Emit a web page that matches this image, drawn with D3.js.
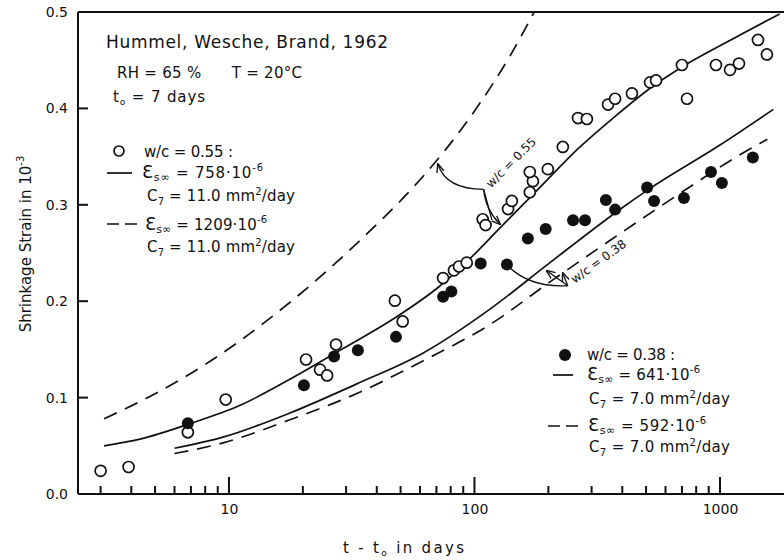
<!DOCTYPE html>
<html><head><meta charset="utf-8">
<script src="https://cdn.jsdelivr.net/npm/d3@7"></script>
<style>
body{margin:0;background:#fff}
text{font-family:"DejaVu Sans",sans-serif;fill:#111}
</style>
</head><body>
<svg id="c" width="784" height="560"></svg>
<script>
// ---- data ----
const openT = [3, 3.9, 6.8, 9.7, 20.6, 23.5, 25.1, 27.3, 47.4, 51, 74.5, 82.5, 86.5, 93, 108, 111, 137, 142, 168, 173, 168, 199, 229, 264, 287, 350, 374, 438, 519, 549, 700, 734, 963, 1099, 1195, 1428, 1553];
const openV = [0.024, 0.028, 0.064, 0.098, 0.1395, 0.129, 0.123, 0.155, 0.2005, 0.179, 0.224, 0.232, 0.236, 0.240, 0.285, 0.279, 0.2956, 0.304, 0.313, 0.3245, 0.334, 0.337, 0.360, 0.390, 0.389, 0.404, 0.410, 0.4155, 0.427, 0.429, 0.445, 0.410, 0.445, 0.440, 0.4465, 0.471, 0.456];
const solidT = [6.8, 20.2, 26.8, 33.5, 47.9, 74.5, 80.5, 106, 135.6, 165, 195, 252, 282, 343, 374, 505, 539, 713, 919, 1018, 1361];
const solidV = [0.0734, 0.1127, 0.1426, 0.149, 0.163, 0.2047, 0.210, 0.239, 0.238, 0.265, 0.275, 0.284, 0.284, 0.305, 0.295, 0.318, 0.304, 0.307, 0.334, 0.3225, 0.349];

// model curves (w/c 0.55: solid = 758e-6, dashed = 1209e-6; w/c 0.38: solid = 641e-6, dashed = 592e-6)
const c55T = [3.1, 4.34, 6.94, 11.1, 17.7, 28.3, 47, 72.5, 103, 127, 183, 269, 367, 533, 700, 1000, 1750];
const c55V = [0.050, 0.057, 0.073, 0.092, 0.119, 0.149, 0.182, 0.216, 0.252, 0.276, 0.317, 0.360, 0.390, 0.423, 0.443, 0.465, 0.498];
const d55T = [3.1, 5.0, 7.62, 11.1, 16.6, 24.2, 36.5, 53, 74.5, 105, 140, 175];
const d55V = [0.078, 0.104, 0.131, 0.159, 0.193, 0.228, 0.270, 0.311, 0.354, 0.405, 0.455, 0.500];
const c38T = [6, 9.45, 17.7, 33, 61.6, 116, 203, 400, 505, 1000, 1650];
const c38V = [0.0475, 0.059, 0.084, 0.114, 0.146, 0.192, 0.240, 0.297, 0.315, 0.362, 0.399];
const d38T = [6, 9.45, 17.7, 33, 61.6, 116, 203, 366, 465, 708, 1190, 1560];
const d38V = [0.042, 0.053, 0.077, 0.104, 0.138, 0.176, 0.220, 0.265, 0.283, 0.314, 0.351, 0.368];

// axes
const yTicks = [0, 0.1, 0.2, 0.3, 0.4, 0.5];
const yTickLabels = ["0.0", "0.1", "0.2", "0.3", "0.4", "0.5"];
const xMajor = [10, 100, 1000];
const xMajorLabels = ["10", "100", "1000"];
const xMinor = [3, 4, 5, 6, 7, 8, 9, 20, 30, 40, 50, 60, 70, 80, 90, 200, 300, 400, 500, 600, 700, 800, 900];

// annotation anchor points in data units
const ann55 = {dash: [71, 0.342], knee: [109, 0.316], line: [127, 0.280], text: [113.5, 0.317]};
const ann38 = {dot: [134, 0.239], tip: [240, 0.216], solid: [197, 0.2315], dashed: [229, 0.229], text: [256, 0.218]};

// ---- drawing ----
const svg = d3.select("#c");
const x = d3.scaleLog().domain([2.427, 1823]).range([78, 784]);
const y = d3.scaleLinear().domain([0, 0.5]).range([494, 12]);
const X0 = x.range()[0], X1 = x.range()[1], Y0 = y(0), Y1 = y(0.5);

const defs = svg.append("defs");
defs.append("marker").attr("id", "arr").attr("viewBox", "0 0 10 10").attr("refX", 9).attr("refY", 5)
  .attr("markerWidth", 7).attr("markerHeight", 7).attr("orient", "auto-start-reverse")
  .append("path").attr("d", "M0,1 L10,5 L0,9").attr("fill", "none").attr("stroke", "#111").attr("stroke-width", 1.5);

// labels: axisBottom / axisLeft with zero-length ticks
const lX = svg.append("g").attr("transform", `translate(0,${Y0})`)
  .call(d3.axisBottom(x).tickValues(xMajor).tickSize(0).tickPadding(10).tickFormat((d, i) => xMajorLabels[i]));
const lY = svg.append("g").attr("transform", `translate(${X0},0)`)
  .call(d3.axisLeft(y).tickValues(yTicks).tickSize(0).tickPadding(10).tickFormat((d, i) => yTickLabels[i]));
[lX, lY].forEach(g => {
  g.selectAll(".domain").remove();
  g.selectAll(".tick line").remove();
  g.selectAll(".tick text").attr("font-size", 14).attr("font-family", "DejaVu Sans").attr("fill", "#111");
});

// frame lines: bottom, left, top
const frame = svg.append("g").attr("stroke", "#111").attr("stroke-width", 2);
frame.append("line").attr("x1", X0).attr("x2", X1).attr("y1", Y0).attr("y2", Y0);
frame.append("line").attr("x1", X0).attr("x2", X0).attr("y1", Y0).attr("y2", Y1);
frame.append("line").attr("x1", X0).attr("x2", X1).attr("y1", Y1).attr("y2", Y1);

// inward tick marks from the scales
const ticks = svg.append("g").attr("stroke", "#111").attr("stroke-width", 2);
ticks.selectAll("line.xmin").data(xMinor).join("line").attr("class", "xmin")
  .attr("x1", d => x(d)).attr("x2", d => x(d)).attr("y1", Y0).attr("y2", Y0 - 8);
ticks.selectAll("line.xmaj").data(xMajor).join("line").attr("class", "xmaj")
  .attr("x1", d => x(d)).attr("x2", d => x(d)).attr("y1", Y0).attr("y2", Y0 - 17);
ticks.selectAll("line.ytk").data(yTicks.slice(1, -1)).join("line").attr("class", "ytk")
  .attr("x1", X0).attr("x2", X0 + 10).attr("y1", d => y(d)).attr("y2", d => y(d));

// axis titles
const xt = svg.append("text").attr("x", 343).attr("y", 553).attr("font-size", 15).attr("textLength", 121).attr("lengthAdjust", "spacing");
xt.append("tspan").text("t - t");
xt.append("tspan").attr("font-size", 9).attr("dy", 3).text("o");
xt.append("tspan").attr("dy", -3).text("  in  days");

const yt = svg.append("text").attr("transform", "translate(31,244) rotate(-90)").attr("text-anchor", "middle").attr("font-size", 15);
yt.append("tspan").text("Shrinkage Strain in 10");
yt.append("tspan").attr("font-size", 10).attr("dy", -7).text("-3");

// curves
const line = d3.line().x(d => x(d[0])).y(d => y(d[1])).curve(d3.curveMonotoneX);
const zip = (a, b) => a.map((t, i) => [t, b[i]]);
const curves = [
  {d: zip(c55T, c55V), dash: null},
  {d: zip(d55T, d55V), dash: "14,9"},
  {d: zip(c38T, c38V), dash: null},
  {d: zip(d38T, d38V), dash: "14,9"}
];
defs.append("clipPath").attr("id", "plot").append("rect")
  .attr("x", X0).attr("y", Y1).attr("width", X1 - X0).attr("height", Y0 - Y1);
svg.append("g").attr("clip-path", "url(#plot)").selectAll("path").data(curves).join("path")
  .attr("d", c => line(c.d)).attr("fill", "none").attr("stroke", "#111").attr("stroke-width", 1.7)
  .attr("stroke-dasharray", c => c.dash);

// points
svg.append("g").selectAll("circle").data(zip(openT, openV)).join("circle")
  .attr("cx", d => x(d[0])).attr("cy", d => y(d[1])).attr("r", 5.5)
  .attr("fill", "#fff").attr("stroke", "#111").attr("stroke-width", 1.7);
svg.append("g").selectAll("circle").data(zip(solidT, solidV)).join("circle")
  .attr("cx", d => x(d[0])).attr("cy", d => y(d[1])).attr("r", 6).attr("fill", "#111");

// annotations
const P = p => [x(p[0]), y(p[1])];
const a = svg.append("g").attr("fill", "none").attr("stroke", "#111").attr("stroke-width", 1.3);
{
  const [dx, dy] = P(ann55.dash), [kx, ky] = P(ann55.knee), [lx, ly] = P(ann55.line);
  a.append("path").attr("d", `M${kx},${ky} Q${dx + 8},${ky} ${dx},${dy}`).attr("marker-end", "url(#arr)");
  a.append("path").attr("d", `M${kx},${ky} Q${kx + 2},${ly - 14} ${lx},${ly}`).attr("marker-end", "url(#arr)");
  a.append("path").attr("d", `M${kx},${ky} L${lx - 8},${ly - 4}`);
  const [tx, ty] = P(ann55.text);
  svg.append("text").attr("transform", `translate(${tx + 3},${ty}) rotate(-45)`).attr("font-size", 12).text("w/c = 0.55");
}
{
  const [ox, oy] = P(ann38.dot), [tx, ty] = P(ann38.tip), [sx, sy] = P(ann38.solid), [qx, qy] = P(ann38.dashed);
  a.append("path").attr("d", `M${ox},${oy} Q${ox + 22},${ty + 2} ${tx},${ty}`);
  a.append("path").attr("d", `M${tx},${ty} L${sx},${sy}`).attr("marker-end", "url(#arr)");
  a.append("path").attr("d", `M${tx},${ty} L${qx},${qy}`).attr("marker-end", "url(#arr)");
  const [px, py] = P(ann38.text);
  svg.append("text").attr("transform", `translate(${px},${py}) rotate(-36)`).attr("font-size", 12).text("w/c = 0.38");
}

// header text
svg.append("text").attr("x", 106).attr("y", 48).attr("font-size", 17).attr("textLength", 282).attr("lengthAdjust", "spacing").text("Hummel, Wesche, Brand, 1962");
svg.append("text").attr("x", 117).attr("y", 78).attr("font-size", 15).attr("textLength", 185).attr("lengthAdjust", "spacing")
  .attr("xml:space", "preserve").text("RH = 65 %      T = 20°C");
{
  const t = svg.append("text").attr("x", 113).attr("y", 102).attr("font-size", 15).attr("textLength", 92).attr("lengthAdjust", "spacing");
  t.append("tspan").text("t");
  t.append("tspan").attr("font-size", 9).attr("dy", 3).text("o");
  t.append("tspan").attr("dy", -3).text(" = 7 days");
}

// legend helpers
function epsText(xp, yp, val, len) {
  const t = svg.append("text").attr("x", xp).attr("y", yp).attr("font-size", 15).attr("textLength", len).attr("lengthAdjust", "spacing");
  t.append("tspan").attr("font-size", 18).text("Ɛ");
  t.append("tspan").attr("font-size", 11).attr("dy", 3).text("s∞");
  t.append("tspan").attr("dy", -3).text(" = " + val + "·10");
  t.append("tspan").attr("font-size", 10).attr("dy", -7).text("-6");
}
function cText(xp, yp, val, len) {
  const t = svg.append("text").attr("x", xp).attr("y", yp).attr("font-size", 15).attr("textLength", len).attr("lengthAdjust", "spacing");
  t.append("tspan").text("C");
  t.append("tspan").attr("font-size", 10).attr("dy", 4).text("7");
  t.append("tspan").attr("dy", -4).text(" = " + val + " mm");
  t.append("tspan").attr("font-size", 10).attr("dy", -6).text("2");
  t.append("tspan").attr("dy", 6).text("/day");
}

// left legend
svg.append("circle").attr("cx", 119).attr("cy", 151).attr("r", 5).attr("fill", "#fff").attr("stroke", "#111").attr("stroke-width", 1.7);
svg.append("text").attr("x", 144).attr("y", 157).attr("font-size", 15).attr("textLength", 89).attr("lengthAdjust", "spacing").text("w/c = 0.55 :");
svg.append("line").attr("x1", 107).attr("x2", 132).attr("y1", 173).attr("y2", 173).attr("stroke", "#111").attr("stroke-width", 1.7);
epsText(142, 178, "758", 121);
cText(147, 201, "11.0", 148);
svg.append("line").attr("x1", 107).attr("x2", 140).attr("y1", 224).attr("y2", 224).attr("stroke", "#111").attr("stroke-width", 1.7).attr("stroke-dasharray", "12,6");
epsText(145, 230, "1209", 122);
cText(147, 252, "11.0", 148);

// right legend
svg.append("circle").attr("cx", 565).attr("cy", 355).attr("r", 6).attr("fill", "#111");
svg.append("text").attr("x", 587).attr("y", 360).attr("font-size", 15).attr("textLength", 88).attr("lengthAdjust", "spacing").text("w/c = 0.38 :");
svg.append("line").attr("x1", 553).attr("x2", 573).attr("y1", 375).attr("y2", 375).attr("stroke", "#111").attr("stroke-width", 1.7);
epsText(587, 380, "641", 113);
cText(589, 404, "7.0", 141);
svg.append("line").attr("x1", 548).attr("x2", 580).attr("y1", 426).attr("y2", 426).attr("stroke", "#111").attr("stroke-width", 1.7).attr("stroke-dasharray", "12,6");
epsText(588, 431, "592", 118);
cText(589, 452, "7.0", 141);
</script>
</body></html>
